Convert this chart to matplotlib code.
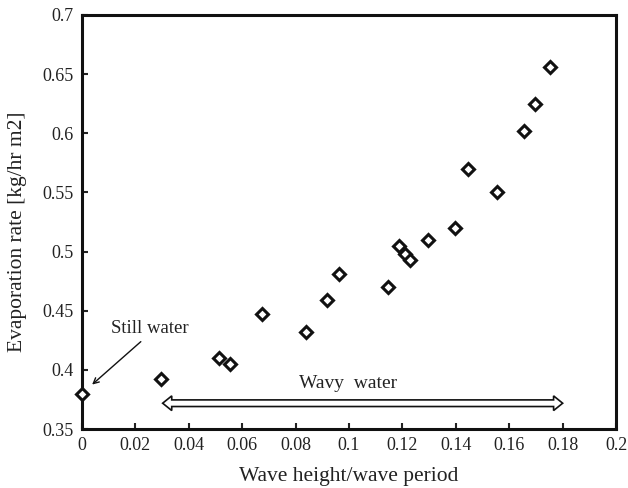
import numpy as np
import matplotlib.pyplot as plt
from matplotlib.patches import Polygon

plt.rcParams['font.family'] = ['Liberation Serif', 'DejaVu Serif']

# datos
ratio = [0.0, 0.0296, 0.0513, 0.0554, 0.0674, 0.0839, 0.0916, 0.0964,
         0.1145, 0.1188, 0.1208, 0.1227, 0.1296, 0.1398, 0.1446, 0.1553,
         0.1657, 0.1695, 0.1753]
evap = [0.380, 0.392, 0.410, 0.405, 0.447, 0.432, 0.459, 0.481,
        0.470, 0.505, 0.498, 0.493, 0.510, 0.520, 0.570, 0.550,
        0.602, 0.625, 0.656]

xticks = [0, 0.02, 0.04, 0.06, 0.08, 0.1, 0.12, 0.14, 0.16, 0.18, 0.2]
xlabels = ['0', '0.02', '0.04', '0.06', '0.08', '0.1', '0.12', '0.14', '0.16', '0.18', '0.2']
yticks = [0.35, 0.4, 0.45, 0.5, 0.55, 0.6, 0.65, 0.7]
ylabels = ['0.35', '0.4', '0.45', '0.5', '0.55', '0.6', '0.65', '0.7']

fig = plt.figure(figsize=(6.28, 4.88), dpi=100)
ax = fig.add_axes([0.1306, 0.1209, 0.8504, 0.8484])

ax.plot(ratio, evap, linestyle='none', marker='D', markersize=6.5,
        markerfacecolor='white', markeredgecolor='#111111', markeredgewidth=2.2,
        clip_on=False, zorder=5)

ax.set_xlim(0, 0.2)
ax.set_ylim(0.35, 0.7)
ax.set_xticks(xticks)
ax.set_xticklabels(xlabels)
ax.set_yticks(yticks)
ax.set_yticklabels(ylabels)
ax.tick_params(direction='in', length=4, width=1.5, labelsize=13, pad=6, colors='#222222')
for s in ax.spines.values():
    s.set_linewidth(2.2)
    s.set_color('#111111')

ax.set_xlabel('Wave height/wave period', fontsize=15.5, labelpad=9, color='#222222')
ax.set_ylabel('Evaporation rate [kg/hr m2]', fontsize=15.5, color='#222222')
ax.yaxis.set_label_coords(-0.103, 0.476)

# still water
ax.annotate('', xy=(0.003, 0.386), xytext=(0.0228, 0.4254),
            arrowprops=dict(arrowstyle='->', color='#111111', lw=1.0))
ax.text(0.0255, 0.4347, 'Still water', fontsize=13.5, ha='center', va='center', color='#222222')

# flecha doble hueca (wavy water)
x0, x1, yc = 0.0302, 0.1800, 0.3718
sh = 0.0028   # medio grosor del cuerpo
hh = 0.0062   # medio alto de la punta
hl = 0.0034   # largo de la punta
pts = [(x0, yc), (x0 + hl, yc + hh), (x0 + hl, yc + sh), (x1 - hl, yc + sh),
       (x1 - hl, yc + hh), (x1, yc), (x1 - hl, yc - hh), (x1 - hl, yc - sh),
       (x0 + hl, yc - sh), (x0 + hl, yc - hh)]
ax.add_patch(Polygon(pts, closed=True, facecolor='white', edgecolor='#111111', lw=1.2))
ax.text(0.0998, 0.3887, 'Wavy  water', fontsize=14, ha='center', va='center', color='#222222')

plt.savefig('out.png', dpi=100)
